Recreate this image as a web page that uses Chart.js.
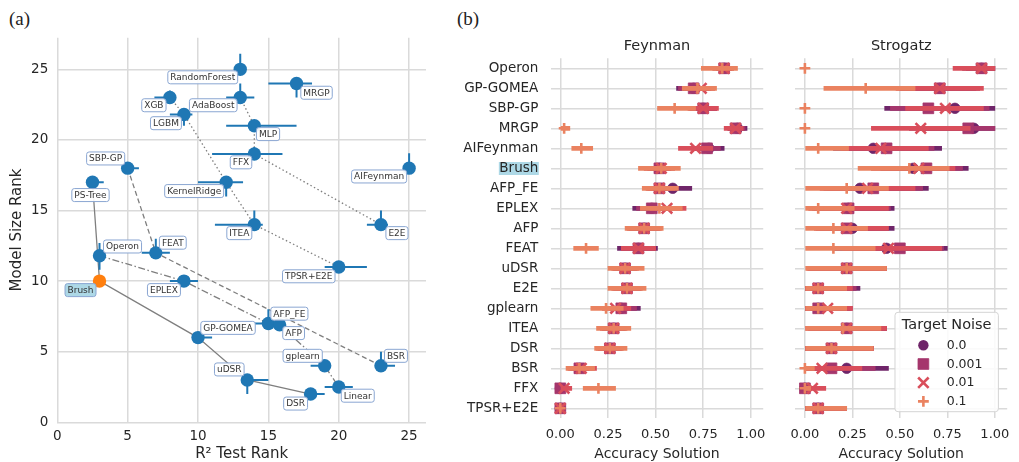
<!DOCTYPE html>
<html>
<head>
<meta charset="utf-8">
<script src="https://cdn.jsdelivr.net/npm/chart.js@4.4.0/dist/chart.umd.min.js"></script>
<style>
  body { margin: 0; background: #fff; width: 1019px; height: 462px; position: relative; overflow: hidden; }
  .panel { position: absolute; top: 0; }
  .tag { position: absolute; font-family: 'Liberation Serif', serif; font-size: 19px; line-height: 19px; color: #222; }
</style>
</head>
<body>
<div class="tag" style="left:9px; top:9px">(a)</div>
<div class="tag" style="left:457px; top:9px">(b)</div>
<div class="panel" style="left:0"><canvas id="chartA" width="440" height="462"></canvas></div>
<div class="panel" style="left:450px"><canvas id="chartF" width="325" height="462"></canvas></div>
<div class="panel" style="left:775px"><canvas id="chartS" width="244" height="462"></canvas></div>
<script>
// ---------- panel (a): R2 test rank vs model size rank ----------
const methodsA = ['RandomForest', 'MRGP', 'XGB', 'AdaBoost', 'LGBM', 'MLP', 'FFX', 'AIFeynman', 'SBP-GP', 'PS-Tree',
  'KernelRidge', 'ITEA', 'E2E', 'Operon', 'FEAT', 'Brush', 'EPLEX', 'TPSR+E2E', 'AFP_FE', 'AFP',
  'GP-GOMEA', 'gplearn', 'BSR', 'uDSR', 'Linear', 'DSR'];
const r2Rank   = [13, 17, 8, 13, 9, 14, 14, 25, 5, 2.5, 12, 14, 23, 3, 7, 3, 9, 20, 15, 15.8, 10, 19, 23, 13.5, 20, 18];
const sizeRank = [25, 24, 23, 23, 21.8, 21, 19, 18, 18, 17, 17, 14, 14, 11.8, 12, 10, 10, 11, 7, 6.9, 6, 4, 4, 3, 2.5, 2];
// error bar ends (null = none visible)
const r2Lo   = [null, 15, 6.9, 12, 8, 12, 11, null, 4.8, 2.3, 10, 11.2, 22, null, 6, null, 8, 19, 14, null, 9.8, 18, 22.8, 13.3, 19, 17.8];
const r2Hi   = [null, 18.1, 8.3, 14, 9.6, 17, 16, null, 5.8, 3.3, 13.2, 14.6, 23.5, null, 8, null, 10, 22, 15.5, null, 11, 19.3, 24, 15, 21, 19];
const sizeLo = [24.7, 23, 22.8, 22.6, 21, null, 18.8, 17.8, null, null, 16, 13.6, 13.6, 10.8, 12, null, null, null, 7, null, null, null, 3.8, 2, null, null];
const sizeHi = [26.1, 24, 23.5, 24, 22, null, 19.5, 19.05, null, null, 17, 15, 15, 12.7, 13, null, null, null, 8, null, null, null, 5, 3.2, null, null];
// pareto fronts
const frontSolid   = ['PS-Tree', 'Brush', 'GP-GOMEA', 'uDSR', 'DSR'];
const frontDashDot = ['Operon', 'EPLEX', 'AFP_FE', 'AFP', 'gplearn', 'Linear'];
const frontDashed  = ['SBP-GP', 'FEAT', 'BSR'];
const frontDotted1 = ['XGB', 'LGBM', 'KernelRidge', 'ITEA', 'TPSR+E2E'];
const frontDotted2 = ['AdaBoost', 'MLP', 'FFX', 'E2E'];

// label box offsets from each point (pixels)
const labelDx = [-37.5, 20, -16, -27, -18, 13.7, -13.3, -30, -22, -2, -32, -15, 16, 23, 17, -19, -20, -30, 21, 14, 30, -22, 15, -18, 19, -15];
const labelDy = [8, 9.3, 7.7, 7.7, 8.7, 8.3, 8.3, 8.3, -9.7, 12.8, 8.8, 8.5, 8.5, -9.2, -10.2, 9, 9, 9.3, -9.8, 8.2, -9.7, -10, -10, -10.5, 8.7, 9.5];

// ---------- panel (b): accuracy solution by target noise ----------
const methodsB = ['Operon', 'GP-GOMEA', 'SBP-GP', 'MRGP', 'AIFeynman', 'Brush', 'AFP_FE', 'EPLEX', 'AFP', 'FEAT',
  'uDSR', 'E2E', 'gplearn', 'ITEA', 'DSR', 'BSR', 'FFX', 'TPSR+E2E'];
const noiseLevels = ['0.0', '0.001', '0.01', '0.1'];
const accTicks = [0, 0.25, 0.5, 0.75, 1];

// [mean, low, high] per method
const feyn000 = [[0.86,0.82,0.90],[0.70,0.61,0.78],[0.75,0.68,0.82],[0.93,0.88,0.98],[0.78,0.70,0.86],[0.52,0.46,0.58],
  [0.59,0.50,0.69],[0.48,0.38,0.58],[0.44,0.36,0.52],[0.41,0.30,0.51],[0.34,0.28,0.40],[0.35,0.28,0.42],
  [0.32,0.27,0.42],[0.28,0.22,0.34],[0.26,0.20,0.32],[0.10,0.06,0.15],[0.00,0.00,0.01],[0.00,0.00,0.00]];
const feyn001 = [[0.86,0.82,0.90],[0.70,0.62,0.79],[0.75,0.68,0.82],[0.92,0.88,0.97],[0.77,0.69,0.84],[0.52,0.46,0.58],
  [0.52,0.46,0.60],[0.48,0.40,0.57],[0.44,0.37,0.51],[0.41,0.32,0.50],[0.34,0.28,0.40],[0.35,0.29,0.42],
  [0.32,0.26,0.40],[0.28,0.22,0.34],[0.26,0.20,0.32],[0.10,0.05,0.15],[0.00,0.00,0.02],[0.00,0.00,0.00]];
const feyn01 = [[0.86,0.80,0.91],[0.74,0.65,0.81],[0.75,0.67,0.83],[0.92,0.86,0.96],[0.71,0.62,0.80],[0.53,0.44,0.60],
  [0.52,0.45,0.60],[0.56,0.47,0.66],[0.44,0.35,0.53],[0.41,0.32,0.50],[0.34,0.27,0.41],[0.35,0.27,0.43],
  [0.29,0.22,0.37],[0.28,0.21,0.35],[0.26,0.19,0.33],[0.11,0.04,0.19],[0.02,0.00,0.06],[0.00,0.00,0.00]];
const feyn1 = [[0.85,0.74,0.93],[0.72,0.64,0.82],[0.60,0.51,0.71],[0.02,0.00,0.05],[0.11,0.06,0.17],[0.53,0.41,0.63],
  [0.52,0.43,0.62],[0.52,0.42,0.64],[0.44,0.34,0.54],[0.135,0.07,0.20],[0.34,0.25,0.44],[0.35,0.25,0.45],
  [0.24,0.16,0.33],[0.28,0.19,0.37],[0.26,0.18,0.35],[0.10,0.03,0.18],[0.20,0.12,0.29],[0.00,0.00,0.00]];

const strog000 = [[0.93,0.85,1.00],[0.71,0.50,0.90],[0.79,0.42,1.00],[0.89,0.60,1.00],[0.36,0.15,0.72],[0.57,0.40,0.86],
  [0.29,0.10,0.65],[0.23,0.05,0.47],[0.25,0.08,0.47],[0.43,0.15,0.75],[0.22,0.02,0.43],[0.07,0.00,0.29],
  [0.07,0.00,0.24],[0.22,0.02,0.43],[0.14,0.00,0.36],[0.22,0.00,0.44],[0.00,0.00,0.02],[0.07,0.00,0.22]];
const strog001 = [[0.93,0.83,1.00],[0.71,0.50,0.92],[0.65,0.45,0.97],[0.86,0.55,1.00],[0.43,0.20,0.68],[0.64,0.45,0.83],
  [0.36,0.12,0.62],[0.23,0.04,0.45],[0.22,0.06,0.44],[0.50,0.25,0.73],[0.22,0.02,0.43],[0.07,0.00,0.27],
  [0.07,0.00,0.25],[0.22,0.02,0.43],[0.14,0.00,0.36],[0.14,0.00,0.37],[0.00,0.00,0.02],[0.07,0.00,0.22]];
const strog01 = [[0.93,0.78,1.00],[0.71,0.48,0.94],[0.74,0.53,0.94],[0.61,0.35,0.87],[0.40,0.19,0.65],[0.60,0.35,0.79],
  [0.33,0.08,0.58],[0.22,0.02,0.44],[0.22,0.05,0.44],[0.44,0.20,0.72],[0.22,0.01,0.43],[0.07,0.00,0.25],
  [0.12,0.00,0.25],[0.22,0.00,0.43],[0.14,0.00,0.36],[0.09,0.00,0.30],[0.04,0.00,0.11],[0.07,0.00,0.22]];
const strog1 = [[0.00,0.00,0.00],[0.32,0.10,0.58],[0.00,0.00,0.00],[0.00,0.00,0.00],[0.07,0.00,0.23],[0.55,0.28,0.76],
  [0.22,0.00,0.44],[0.07,0.00,0.26],[0.15,0.00,0.33],[0.15,0.00,0.37],[0.22,0.00,0.43],[0.07,0.00,0.22],
  [0.07,0.00,0.22],[0.20,0.00,0.40],[0.14,0.00,0.36],[0.00,0.00,0.05],[0.00,0.00,0.03],[0.07,0.00,0.22]];

const noiseColors = ['#6f2569', '#a5366c', '#d94e5b', '#ea8260'];
const markerStyles = [
  { pointStyle: 'circle', radius: 5.2, width: 0.8 },
  { pointStyle: 'rect', radius: 7.6, width: 0.8 },
  { pointStyle: 'crossRot', radius: 7.4, width: 2.6 },
  { pointStyle: 'cross', radius: 5.4, width: 2.6 }
];

Chart.defaults.font.family = "'DejaVu Sans', sans-serif";
Chart.defaults.color = '#262626';
const gridColor = '#dadada';
const textColor = '#262626';

// ---------- chart (a) ----------
const idxA = {};
methodsA.forEach((m, i) => { idxA[m] = i; });
const pointsA = methodsA.map((m, i) => ({ x: r2Rank[i], y: sizeRank[i] }));

const frontSets = [
  [frontSolid, []],
  [frontDashDot, [7, 2.5, 1.5, 2.5]],
  [frontDashed, [5, 3]],
  [frontDotted1, [1.5, 2.5]],
  [frontDotted2, [1.5, 2.5]]
].map(([names, dash]) => ({
  type: 'line',
  data: names.map(n => pointsA[idxA[n]]),
  borderColor: '#7f7f7f',
  borderWidth: 1.3,
  borderDash: dash,
  pointRadius: 0,
  fill: false,
  order: 3
}));

const errSets = [];
methodsA.forEach((m, i) => {
  if (r2Lo[i] !== null) {
    errSets.push({ type: 'line', data: [{ x: r2Lo[i], y: sizeRank[i] }, { x: r2Hi[i], y: sizeRank[i] }],
      borderColor: '#1f77b4', borderWidth: 2, pointRadius: 0, order: 2 });
  }
  if (sizeLo[i] !== null) {
    errSets.push({ type: 'line', data: [{ x: r2Rank[i], y: sizeLo[i] }, { x: r2Rank[i], y: sizeHi[i] }],
      borderColor: '#1f77b4', borderWidth: 2, pointRadius: 0, order: 2 });
  }
});

// boxed method names next to each point
const pointLabels = {
  id: 'pointLabels',
  afterDatasetsDraw(chart) {
    const { ctx, scales: { x, y } } = chart;
    ctx.save();
    ctx.font = "9px 'DejaVu Sans'";
    ctx.textAlign = 'center';
    ctx.textBaseline = 'middle';
    methodsA.forEach((m, i) => {
      const cx = x.getPixelForValue(r2Rank[i]) + labelDx[i];
      const cy = y.getPixelForValue(sizeRank[i]) + labelDy[i];
      const w = ctx.measureText(m).width + 5;
      const h = 13;
      ctx.beginPath();
      ctx.roundRect(cx - w / 2, cy - h / 2, w, h, 2.5);
      ctx.fillStyle = m === 'Brush' ? '#add8e6' : 'rgba(255,255,255,0.92)';
      ctx.fill();
      ctx.lineWidth = 1;
      ctx.strokeStyle = '#8aa6d2';
      ctx.stroke();
      ctx.fillStyle = '#333';
      ctx.fillText(m, cx, cy + 0.5);
    });
    ctx.restore();
  }
};

new Chart(document.getElementById('chartA'), {
  type: 'scatter',
  data: {
    datasets: [
      {
        data: pointsA,
        pointRadius: 6.7,
        pointBorderWidth: 0,
        pointBackgroundColor: methodsA.map(m => m === 'Brush' ? '#ff7f0e' : '#1f77b4'),
        order: 1
      },
      ...errSets,
      ...frontSets
    ]
  },
  options: {
    responsive: false,
    animation: false,
    events: [],
    layout: { padding: { left: 0, top: 37.7, right: 14, bottom: 0 } },
    plugins: { legend: { display: false }, tooltip: { enabled: false } },
    scales: {
      x: {
        type: 'linear', min: 0, max: 26.2,
        afterBuildTicks: s => { s.ticks = [0, 5, 10, 15, 20, 25].map(v => ({ value: v })); },
        afterFit: s => { s.height = 39.7; },
        ticks: { font: { size: 13.5 }, color: textColor, padding: 6, maxRotation: 0 },
        grid: { color: gridColor, lineWidth: 1.5, drawTicks: false },
        border: { display: false },
        title: { display: true, text: 'R² Test Rank', font: { size: 15, lineHeight: 1.0 }, color: textColor, padding: { top: 0, bottom: 0 } }
      },
      y: {
        type: 'linear', min: 0, max: 27.24,
        afterBuildTicks: s => { s.ticks = [0, 5, 10, 15, 20, 25].map(v => ({ value: v })); },
        afterFit: s => { s.width = 57.3; },
        ticks: { font: { size: 13.5 }, color: textColor, padding: 9 },
        grid: { color: gridColor, lineWidth: 1.5, drawTicks: false },
        border: { display: false },
        title: { display: true, text: 'Model Size Rank', font: { size: 15 }, color: textColor, padding: { top: 8.5, bottom: 0 } }
      }
    }
  },
  plugins: [pointLabels]
});

// ---------- charts (b) ----------
function noiseDatasets(levels) {
  const sets = [];
  levels.forEach((rows, k) => {
    const st = markerStyles[k];
    sets.push({
      type: 'bar',
      data: rows.map(r => [r[1], r[2]]),
      backgroundColor: noiseColors[k],
      borderWidth: 0,
      barThickness: 4,
      grouped: false,
      order: 8 - 2 * k
    });
    sets.push({
      type: 'scatter',
      data: rows.map((r, i) => ({ x: r[0], y: methodsB[i] })),
      pointStyle: st.pointStyle,
      pointRadius: st.radius,
      pointBorderWidth: st.width,
      pointBackgroundColor: noiseColors[k],
      pointBorderColor: noiseColors[k],
      order: 7 - 2 * k
    });
  });
  return sets;
}

// light-blue highlight behind the "Brush" tick label
const brushHighlight = {
  id: 'brushHighlight',
  beforeDraw(chart) {
    const s = chart.scales.y;
    const yPix = s.getPixelForValue(methodsB.indexOf('Brush'));
    const ctx = chart.ctx;
    ctx.save();
    ctx.font = "13.5px 'DejaVu Sans'";
    const w = ctx.measureText('Brush').width;
    const right = chart.chartArea.left - 12.5;
    ctx.fillStyle = '#add8e6';
    ctx.fillRect(right - w - 0.5, yPix - 6.3, w + 1, 13);
    ctx.restore();
  }
};

// "Target Noise" legend box inside the Strogatz panel
const noiseLegend = {
  id: 'noiseLegend',
  afterDraw(chart) {
    const ctx = chart.ctx;
    const ca = chart.chartArea;
    const bw = 103.4, bh = 99.4;
    const bx = ca.right - 8.8 - bw, by = ca.bottom - 6.6 - bh;
    ctx.save();
    ctx.beginPath();
    ctx.roundRect(bx, by, bw, bh, 3);
    ctx.fillStyle = 'rgba(255,255,255,0.85)';
    ctx.fill();
    ctx.strokeStyle = '#d4d4d4';
    ctx.lineWidth = 1;
    ctx.stroke();
    ctx.fillStyle = textColor;
    ctx.textBaseline = 'middle';
    ctx.textAlign = 'center';
    ctx.font = "14.5px 'DejaVu Sans'";
    ctx.fillText('Target Noise', bx + bw / 2, by + 13);
    ctx.textAlign = 'left';
    ctx.font = "12.5px 'DejaVu Sans'";
    noiseLevels.forEach((lab, k) => {
      const yy = by + 33 + k * 18.7;
      const xx = bx + 28.4;
      const st = markerStyles[k];
      ctx.fillStyle = noiseColors[k];
      ctx.strokeStyle = noiseColors[k];
      ctx.lineWidth = st.width;
      ctx.beginPath();
      if (st.pointStyle === 'circle') {
        ctx.arc(xx, yy, st.radius, 0, Math.PI * 2);
        ctx.fill();
      } else if (st.pointStyle === 'rect') {
        const h = st.radius * Math.SQRT1_2;
        ctx.rect(xx - h, yy - h, 2 * h, 2 * h);
        ctx.fill();
        ctx.stroke();
      } else if (st.pointStyle === 'crossRot') {
        const h = st.radius * Math.SQRT1_2;
        ctx.moveTo(xx - h, yy - h); ctx.lineTo(xx + h, yy + h);
        ctx.moveTo(xx + h, yy - h); ctx.lineTo(xx - h, yy + h);
        ctx.stroke();
      } else {
        const h = st.radius;
        ctx.moveTo(xx - h, yy); ctx.lineTo(xx + h, yy);
        ctx.moveTo(xx, yy - h); ctx.lineTo(xx, yy + h);
        ctx.stroke();
      }
      ctx.fillStyle = textColor;
      ctx.fillText(lab, bx + 51.7, yy + 0.5);
    });
    ctx.restore();
  }
};

function accuracyChart(canvasId, title, levels, yWidth, rightPad, showLabels, extraPlugins) {
  return new Chart(document.getElementById(canvasId), {
    type: 'bar',
    data: { labels: methodsB, datasets: noiseDatasets(levels) },
    options: {
      responsive: false,
      animation: false,
      events: [],
      indexAxis: 'y',
      layout: { padding: { left: 0, top: 0, right: rightPad, bottom: 0 } },
      plugins: {
        legend: { display: false },
        tooltip: { enabled: false },
        title: {
          display: true, text: title, fullSize: false, color: textColor,
          font: { size: 14.5, weight: 'normal', lineHeight: 1.2 },
          padding: { top: 37.3, bottom: 3.6 }
        }
      },
      scales: {
        x: {
          type: 'linear', min: -0.05, max: 1.065,
          afterBuildTicks: s => { s.ticks = accTicks.map(v => ({ value: v })); },
          afterFit: s => { s.height = 43.7; },
          ticks: { font: { size: 13 }, color: textColor, padding: 9, maxRotation: 0, callback: v => v.toFixed(2) },
          grid: { color: gridColor, lineWidth: 1.5, drawTicks: false },
          border: { display: false },
          title: { display: true, text: 'Accuracy Solution', font: { size: 14, lineHeight: 1.05 }, color: textColor, padding: { top: 0, bottom: 0 } }
        },
        y: {
          type: 'category', offset: true,
          afterFit: s => { s.width = yWidth; },
          ticks: { display: showLabels, font: { size: 13.5 }, color: textColor, padding: 12.5, autoSkip: false },
          grid: { color: gridColor, lineWidth: 1.5, drawTicks: false, offset: false },
          border: { display: false }
        }
      }
    },
    plugins: extraPlugins
  });
}

accuracyChart('chartF', 'Feynman', [feyn000, feyn001, feyn01, feyn1], 100.8, 4.2, true, [brushHighlight]);
accuracyChart('chartS', 'Strogatz', [strog000, strog001, strog01, strog1], 20.4, 3.5, false, [noiseLegend]);
</script>
</body>
</html>
